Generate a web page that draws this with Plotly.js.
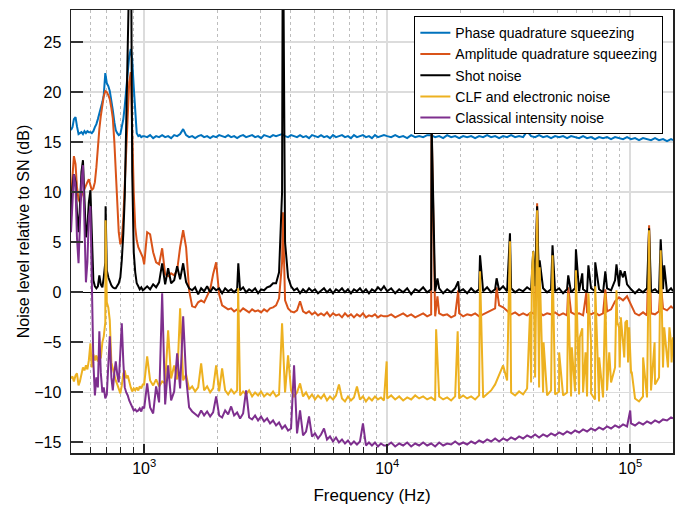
<!DOCTYPE html>
<html>
<head>
<meta charset="utf-8">
<script src="https://cdn.plot.ly/plotly-3.0.1.min.js"></script>
<style>html,body{margin:0;padding:0;background:#fff;}#chart{width:678px;height:505px;}</style>
</head>
<body>
<div id="chart"></div>
<script>
// Frequency grid (Hz): 500-987, 1000-9698, 10000-150000
const freq = [
500,507,514,522,529,537,544,552,560,568,576,584,592,601,609,618,627,636,645,654,663,673,682,692,702,712,722,733,743,754,764,775,786,798,809,821,832,844,856,868,881,893,906,919,932,946,959,973,987,
1000,1029,1058,1089,1120,1152,1186,1220,1255,1291,1329,1367,1406,1447,1488,1531,1576,1621,1668,1716,1765,1816,1869,1922,1978,2035,2093,2154,2216,2280,2345,2413,2482,2554,2627,2703,2781,2861,2943,3028,3115,3205,3297,3392,3490,3590,3694,3800,3910,4022,4138,4257,4380,4506,4636,4769,4906,5048,5193,5343,5496,5655,5817,5985,6157,6334,6517,6704,6897,7096,7300,7510,7727,7949,8178,8414,8656,8906,9162,9426,9698,
10000,10386,10787,11204,11636,12085,12552,13036,13540,14062,14605,15169,15755,16363,16994,17650,18332,19039,19774,20537,21330,22154,23009,23897,24820,25778,26773,27806,28880,29995,31153,32355,33604,34901,36249,37648,39101,40611,42178,43806,45497,47253,49078,50972,52940,54983,57106,59310,61600,63978,66447,69012,71676,74443,77316,80301,83401,86620,89964,93437,97044,100790,104680,108721,112918,117277,121804,126506,131389,136461,141729,147200,150000
];

// Phase quadrature squeezing (dB)
const phaseSq = [
16.2,16.5,17.3,17.5,16.6,15.8,15.9,16.0,15.8,16.1,15.9,16.1,16.0,16.0,15.9,16.1,16.5,16.8,17.3,17.8,18.4,19.0,19.7,21.9,20.9,20.6,20.1,19.3,18.2,17.0,16.2,15.9,15.7,15.8,16.4,17.3,18.6,20.2,22.0,23.6,24.3,23.2,20.5,17.5,15.9,15.6,15.7,15.5,15.6,
15.6,15.5,15.7,15.4,15.6,15.5,15.7,15.5,15.6,15.4,15.7,15.6,15.8,16.3,15.7,15.5,15.6,15.4,15.6,15.7,15.5,15.6,15.4,15.6,15.5,15.7,15.6,15.5,15.7,15.5,15.6,15.4,15.6,15.7,15.5,15.6,15.7,15.5,15.6,15.4,15.7,15.6,15.5,15.7,15.6,15.7,15.8,15.6,15.5,15.7,15.6,15.5,15.7,15.5,15.6,15.4,15.7,15.6,15.5,15.7,15.5,15.6,15.4,15.7,15.5,15.6,15.7,15.5,15.6,15.4,15.7,15.5,15.6,15.7,15.5,15.6,15.4,15.7,15.5,15.6,15.7,
15.6,15.5,15.7,15.5,15.6,15.4,15.7,15.5,15.6,15.5,15.7,15.7,15.5,15.6,15.4,15.7,15.5,15.6,15.4,15.6,15.5,15.6,15.4,15.6,15.5,15.7,15.5,15.6,15.4,15.6,15.5,15.7,15.5,15.6,15.5,16.1,15.6,15.5,15.7,15.5,15.6,15.4,15.6,15.5,15.6,15.4,15.6,15.5,15.4,15.6,15.4,15.5,15.3,15.5,15.4,15.5,15.3,15.5,15.4,15.3,15.5,15.3,15.4,15.2,15.4,15.3,15.2,15.4,15.2,15.3,15.1,15.3,15.2
];

// Amplitude quadrature squeezing (dB)
const ampSq = [
9.5,12.0,13.6,12.8,10.5,9.3,9.0,9.6,10.0,10.3,10.6,11.0,11.3,10.8,10.2,10.4,11.0,12.5,14.8,16.3,17.6,18.7,19.6,20.1,20.0,19.7,19.3,18.4,17.4,15.0,11.8,8.5,6.0,4.8,5.2,7.5,10.5,13.5,17.0,21.0,22.0,16.0,10.0,6.5,5.2,4.5,4.2,3.9,3.5,
2.8,6.0,5.8,4.0,3.0,2.8,4.4,1.8,1.6,1.9,1.7,2.2,4.5,6.2,4.5,0.2,-1.4,-1.5,-1.0,-0.8,-1.0,-0.4,0.3,1.8,3.0,-0.2,-1.3,-1.5,-1.7,-1.6,-1.9,-1.7,-1.9,-1.6,-1.8,-2.0,-1.7,-1.9,-1.8,-2.0,-1.7,-1.9,-1.6,-1.5,-1.3,-0.6,3.0,-0.8,-1.6,-1.9,-2.0,-1.8,-0.9,-1.9,-2.1,-1.9,-2.2,-2.0,-2.3,-2.1,-2.3,-2.0,-2.4,-2.1,-2.3,-2.2,-2.5,-2.1,-2.4,-2.2,-2.5,-2.2,-2.4,-2.1,-2.5,-2.3,-2.4,-2.2,-2.5,-2.3,-2.4,
-2.4,-2.2,-2.5,-2.3,-2.1,-2.4,-2.2,-2.5,-2.3,-2.1,-2.4,-2.2,-2.4,-2.1,-2.3,-2.2,-2.5,-2.3,-2.1,-2.4,-2.2,-2.3,-2.1,-2.4,-2.2,-2.0,-1.8,-1.6,-1.3,-1.5,-1.9,-2.2,-2.0,-2.3,-2.1,-2.3,-2.0,-2.2,-2.0,-2.3,-2.1,-2.2,-2.0,-2.3,-2.1,-2.3,-2.0,-2.2,-2.1,-2.3,-2.0,-2.2,-2.0,-2.3,-2.1,-1.9,-1.7,-0.9,-0.5,-0.8,-0.4,-1.2,-2.1,-2.3,-2.0,-2.3,-2.1,-2.2,-1.9,-1.6,-1.8,-1.4,-1.6
];
const ampSpikeF = [3722,15230,16100,19600,28200,41400,55600,66000,79000,119600,133500];
const ampSpikeV = [8.0,17.0,-0.4,0.2,0.5,8.9,0.5,0.0,0.3,6.7,1.0];

// Shot noise (dB)
const shotNoise = [
7.5,10.5,11.8,11.0,8.0,6.0,8.5,12.0,13.2,9.5,5.5,6.5,9.0,10.2,5.0,1.2,0.6,0.4,0.6,1.7,0.8,0.5,1.5,3.0,2.2,1.5,1.0,0.7,0.5,0.4,0.4,0.6,0.9,1.5,3.2,5.9,9.5,17.0,26.0,40.0,40.0,12.0,4.0,2.0,0.9,0.6,0.3,0.5,0.2,
0.3,0.6,0.3,0.8,0.5,1.0,2.9,0.8,2.4,0.9,1.2,2.6,1.3,2.9,1.0,0.4,0.2,0.5,-0.2,0.4,0.1,0.6,0.0,0.5,0.2,0.4,-0.1,0.4,0.1,0.3,0.0,0.3,0.2,0.5,0.0,0.3,0.1,0.4,-0.1,0.3,0.2,0.5,0.6,0.9,0.9,2.0,10.0,5.0,1.5,0.6,0.2,0.4,-0.1,0.3,0.0,0.4,0.1,0.3,-0.1,0.2,0.4,0.0,0.3,-0.1,0.3,0.1,0.4,0.0,0.3,-0.1,0.3,0.1,0.4,0.0,0.3,-0.1,0.3,0.1,0.5,0.2,0.6,
0.1,0.4,-0.1,0.3,0.0,0.4,-0.2,0.3,0.1,0.5,0.0,0.3,0.1,0.4,-0.1,0.3,0.0,0.4,0.1,0.3,-0.1,0.4,0.0,0.3,0.1,0.5,0.0,0.3,0.2,0.6,0.1,0.4,0.0,0.3,0.1,0.5,0.2,0.6,0.1,0.4,0.0,0.3,0.1,0.4,-0.1,0.3,0.0,0.4,0.1,0.3,0.0,0.4,0.1,0.3,0.0,0.4,0.2,1.2,0.6,1.5,0.8,0.3,-0.1,0.3,0.0,0.4,0.1,0.3,-0.1,0.3,0.0,0.4,0.1
];
const shotSpikeF = [694,2440,3722,15230,16100,19600,24100,28200,32000,39900,41400,42400,47900,55600,59800,63500,67300,71800,79000,87800,91000,95000,119600,133500,138000];
const shotSpikeV = [8.6,2.9,40,17.0,1.4,1.1,3.7,1.4,5.9,4.1,8.6,3.2,4.7,1.7,4.3,1.9,2.7,3.0,2.1,2.8,2.2,2.1,6.4,5.3,2.7];

// CLF and electronic noise (dB)
const clfNoise = [
-8.6,-8.4,-8.9,-8.3,-8.1,-9.3,-8.9,-8.0,-7.5,-7.8,-7.3,-7.7,-6.8,-5.1,-7.5,-6.2,-6.8,-6.3,-6.9,-6.2,-6.6,-5.0,-4.4,-3.0,-1.0,-1.5,-2.8,-7.0,-7.6,-8.3,-8.8,-9.2,-9.6,-10.1,-9.3,-8.1,-7.8,-8.6,-8.3,-9.0,-9.5,-9.9,-9.6,-9.8,-9.5,-9.8,-9.4,-9.6,-9.2,
-9.2,-6.4,-8.8,-9.3,-8.7,-9.4,-8.9,-9.1,-3.8,-8.6,-7.3,-8.7,-1.6,-8.8,-8.2,-9.7,-9.4,-9.9,-9.5,-7.1,-9.8,-9.4,-10.0,-9.6,-7.3,-9.9,-7.6,-9.8,-10.2,-9.7,-10.1,-9.8,-10.3,-9.9,-10.2,-9.8,-10.4,-10.0,-10.3,-9.9,-10.4,-10.1,-10.3,-9.9,-10.4,-10.2,-3.1,-10.0,-6.3,-9.8,-10.4,-10.0,-9.1,-10.4,-10.0,-10.6,-10.2,-10.7,-10.3,-10.6,-10.2,-10.8,-10.4,-10.7,-10.3,-9.2,-10.6,-10.9,-10.4,-10.8,-10.5,-9.4,-10.7,-10.4,-10.9,-10.5,-10.8,-10.4,-10.7,-10.5,-10.8,
-10.6,-10.3,-10.7,-10.4,-10.8,-10.5,-10.7,-10.3,-10.6,-10.4,-10.7,-10.5,-10.8,-10.4,-10.7,-10.5,-10.8,-10.4,-10.6,-10.3,-10.6,-10.4,-10.7,-10.3,-10.5,-10.1,-9.8,-9.2,-8.3,-7.3,-8.8,-10.0,-10.3,-9.9,-10.2,-9.6,-9.0,-8.5,-9.5,-10.0,-10.3,-9.8,-10.2,-9.9,-10.3,-10.0,-10.4,-9.9,-10.2,-10.0,-10.4,-10.1,-10.7,-10.9,-10.5,-9.8,-9.0,-7.5,-3.5,-5.0,-2.8,-8.0,-10.6,-10.9,-10.4,-10.5,-9.8,-9.2,-8.5,-7.5,-6.0,-5.0,-4.5
];
const clfSpikeF = [694,2437,9950,15900,19500,24100,32000,38700,39400,39900,40400,41400,42400,44000,47900,51000,55600,57500,59800,62000,63500,65500,67300,69000,71800,74500,79000,82000,87800,88500,90500,91500,94500,95500,98000,99000,101500,113000,119600,126000,133500,138000,143000,145000,148000];
const clfSpikeV = [7.2,0.4,-6.9,-3.7,-3.9,2.1,5.1,-2.0,2.0,4.1,-4.0,8.2,2.5,-5.0,3.7,-6.0,-0.1,-5.5,2.2,-4.5,-3.6,-6.0,-0.1,-5.0,0.6,-6.5,-0.1,-6.0,0.2,-3.0,-7.5,-2.5,-6.5,-3.0,-7.0,-3.5,-8.0,-6.5,6.2,-5.0,4.2,-3.5,-7.5,-3.5,-7.0];

// Classical intensity noise (dB)
const classicalNoise = [
6.0,9.5,11.8,10.5,5.5,2.9,6.5,11.0,12.7,7.0,1.0,3.0,7.5,8.6,1.0,-7.0,-10.3,-8.5,-9.5,-3.9,-8.0,-10.0,-9.5,-10.6,-10.2,-7.0,-4.4,-8.5,-9.8,-8.0,-6.9,-8.2,-9.0,-6.0,-3.1,-7.0,-9.5,-10.0,-10.3,-10.8,-11.1,-11.5,-11.8,-11.7,-11.9,-11.8,-11.6,-11.9,-11.4,
-11.6,-9.1,-11.5,-12.1,-9.4,-11.0,-0.1,-11.2,-7.3,-10.8,-9.9,-6.1,-9.6,-2.4,-8.5,-11.5,-11.9,-12.2,-12.4,-11.8,-12.3,-11.9,-12.4,-12.0,-10.4,-12.3,-12.5,-11.8,-12.2,-11.4,-12.3,-12.0,-12.6,-12.1,-9.8,-12.5,-12.7,-12.3,-12.8,-12.4,-12.9,-12.6,-13.1,-12.8,-13.3,-13.0,-13.6,-13.3,-13.8,-13.6,-7.3,-14.1,-11.8,-14.3,-13.9,-12.4,-14.4,-14.1,-14.6,-14.2,-13.6,-14.7,-14.4,-14.9,-14.5,-15.0,-14.7,-15.1,-14.8,-15.2,-14.9,-15.2,-14.9,-13.1,-15.3,-15.0,-15.3,-15.0,-15.4,-15.1,-15.3,
-15.3,-15.0,-15.4,-15.1,-15.3,-15.0,-15.4,-15.1,-15.3,-15.0,-15.3,-15.1,-15.4,-15.0,-15.3,-15.1,-15.2,-14.9,-15.2,-15.0,-15.2,-14.9,-15.1,-14.8,-15.0,-14.7,-14.9,-14.6,-14.9,-14.6,-14.8,-14.5,-14.7,-14.4,-14.6,-14.3,-14.5,-14.2,-14.5,-14.2,-14.4,-14.1,-14.3,-14.0,-14.2,-13.9,-14.1,-13.8,-14.0,-13.7,-13.9,-13.6,-13.8,-13.5,-13.7,-13.4,-13.6,-13.3,-13.5,-13.2,-13.4,-13.1,-13.3,-13.0,-13.2,-12.9,-13.1,-12.8,-13.0,-12.7,-12.8,-12.5,-12.6
];
const classicalSpikeF = [100000];
const classicalSpikeV = [-11.8];

const seriesNames = ['Phase quadrature squeezing','Amplitude quadrature squeezing','Shot noise','CLF and electronic noise','Classical intensity noise'];
const seriesColors = ['#0072BD','#D95319','#000000','#EDB120','#7E2F8E'];

const majorTicks = [1000,10000,100000];
const majorTickText = ['10<sup>3</sup>','10<sup>4</sup>','10<sup>5</sup>'];
const minorTicks = [600,700,800,900,2000,3000,4000,5000,6000,7000,8000,9000,20000,30000,40000,50000,60000,70000,80000,90000];
const yTicks = [-15,-10,-5,0,5,10,15,20,25];

function merge(vals, sf, sv) {
  const pts = freq.map((f, i) => [f, vals[i]]);
  (sf || []).forEach((f, i) => pts.push([f, sv[i]]));
  pts.sort((a, b) => a[0] - b[0]);
  return {x: pts.map(p => p[0]), y: pts.map(p => p[1])};
}

const data = [
  merge(phaseSq, [], []),
  merge(ampSq, ampSpikeF, ampSpikeV),
  merge(shotNoise, shotSpikeF, shotSpikeV),
  merge(clfNoise, clfSpikeF, clfSpikeV),
  merge(classicalNoise, classicalSpikeF, classicalSpikeV)
].map((d, i) => ({
  type: 'scatter', mode: 'lines', x: d.x, y: d.y, name: seriesNames[i],
  line: {color: seriesColors[i], width: 2}
}));

const layout = {
  width: 678, height: 505,
  margin: {l: 71, r: 5, t: 10, b: 52, pad: 0},
  paper_bgcolor: '#ffffff', plot_bgcolor: '#ffffff',
  font: {family: 'Liberation Sans, Arial, sans-serif', size: 16, color: '#000'},
  showlegend: true,
  legend: {x: 0.984, xanchor: 'right', y: 0.986, yanchor: 'top', bgcolor: '#ffffff',
           bordercolor: '#000', borderwidth: 1, font: {size: 14}, tracegroupgap: 0},
  xaxis: {
    type: 'log', range: [Math.log10(500), Math.log10(150000)],
    tickmode: 'array', tickvals: majorTicks, ticktext: majorTickText,
    tickfont: {size: 16},
    ticks: 'inside', ticklen: 9, tickwidth: 1.5, tickcolor: '#222',
    showline: true, linecolor: '#222', linewidth: 1.5, mirror: true,
    showgrid: true, gridcolor: '#dcdcdc', gridwidth: 1.5, zeroline: false,
    minor: {tickmode: 'array', tickvals: minorTicks, ticks: 'inside', ticklen: 6, tickwidth: 1,
            tickcolor: '#222', showgrid: true, gridcolor: '#bdbdbd', gridwidth: 1, griddash: 'dot'},
    title: {text: 'Frequency (Hz)', font: {size: 17}}
  },
  yaxis: {
    range: [-16.05, 28.2], tickmode: 'array', tickvals: yTicks,
    tickfont: {size: 16},
    ticks: 'inside', ticklen: 12, tickwidth: 2, tickcolor: '#333',
    showline: true, linecolor: '#222', linewidth: 1.5, mirror: true,
    showgrid: true, gridcolor: '#dcdcdc', gridwidth: 1.5,
    zeroline: true, zerolinecolor: '#000', zerolinewidth: 1.5,
    ticklabelstandoff: 5,
    title: {text: 'Noise level relative to SN (dB)', font: {size: 16}}
  }
};

Plotly.newPlot('chart', data, layout, {displayModeBar: false, staticPlot: true});
</script>
</body>
</html>
